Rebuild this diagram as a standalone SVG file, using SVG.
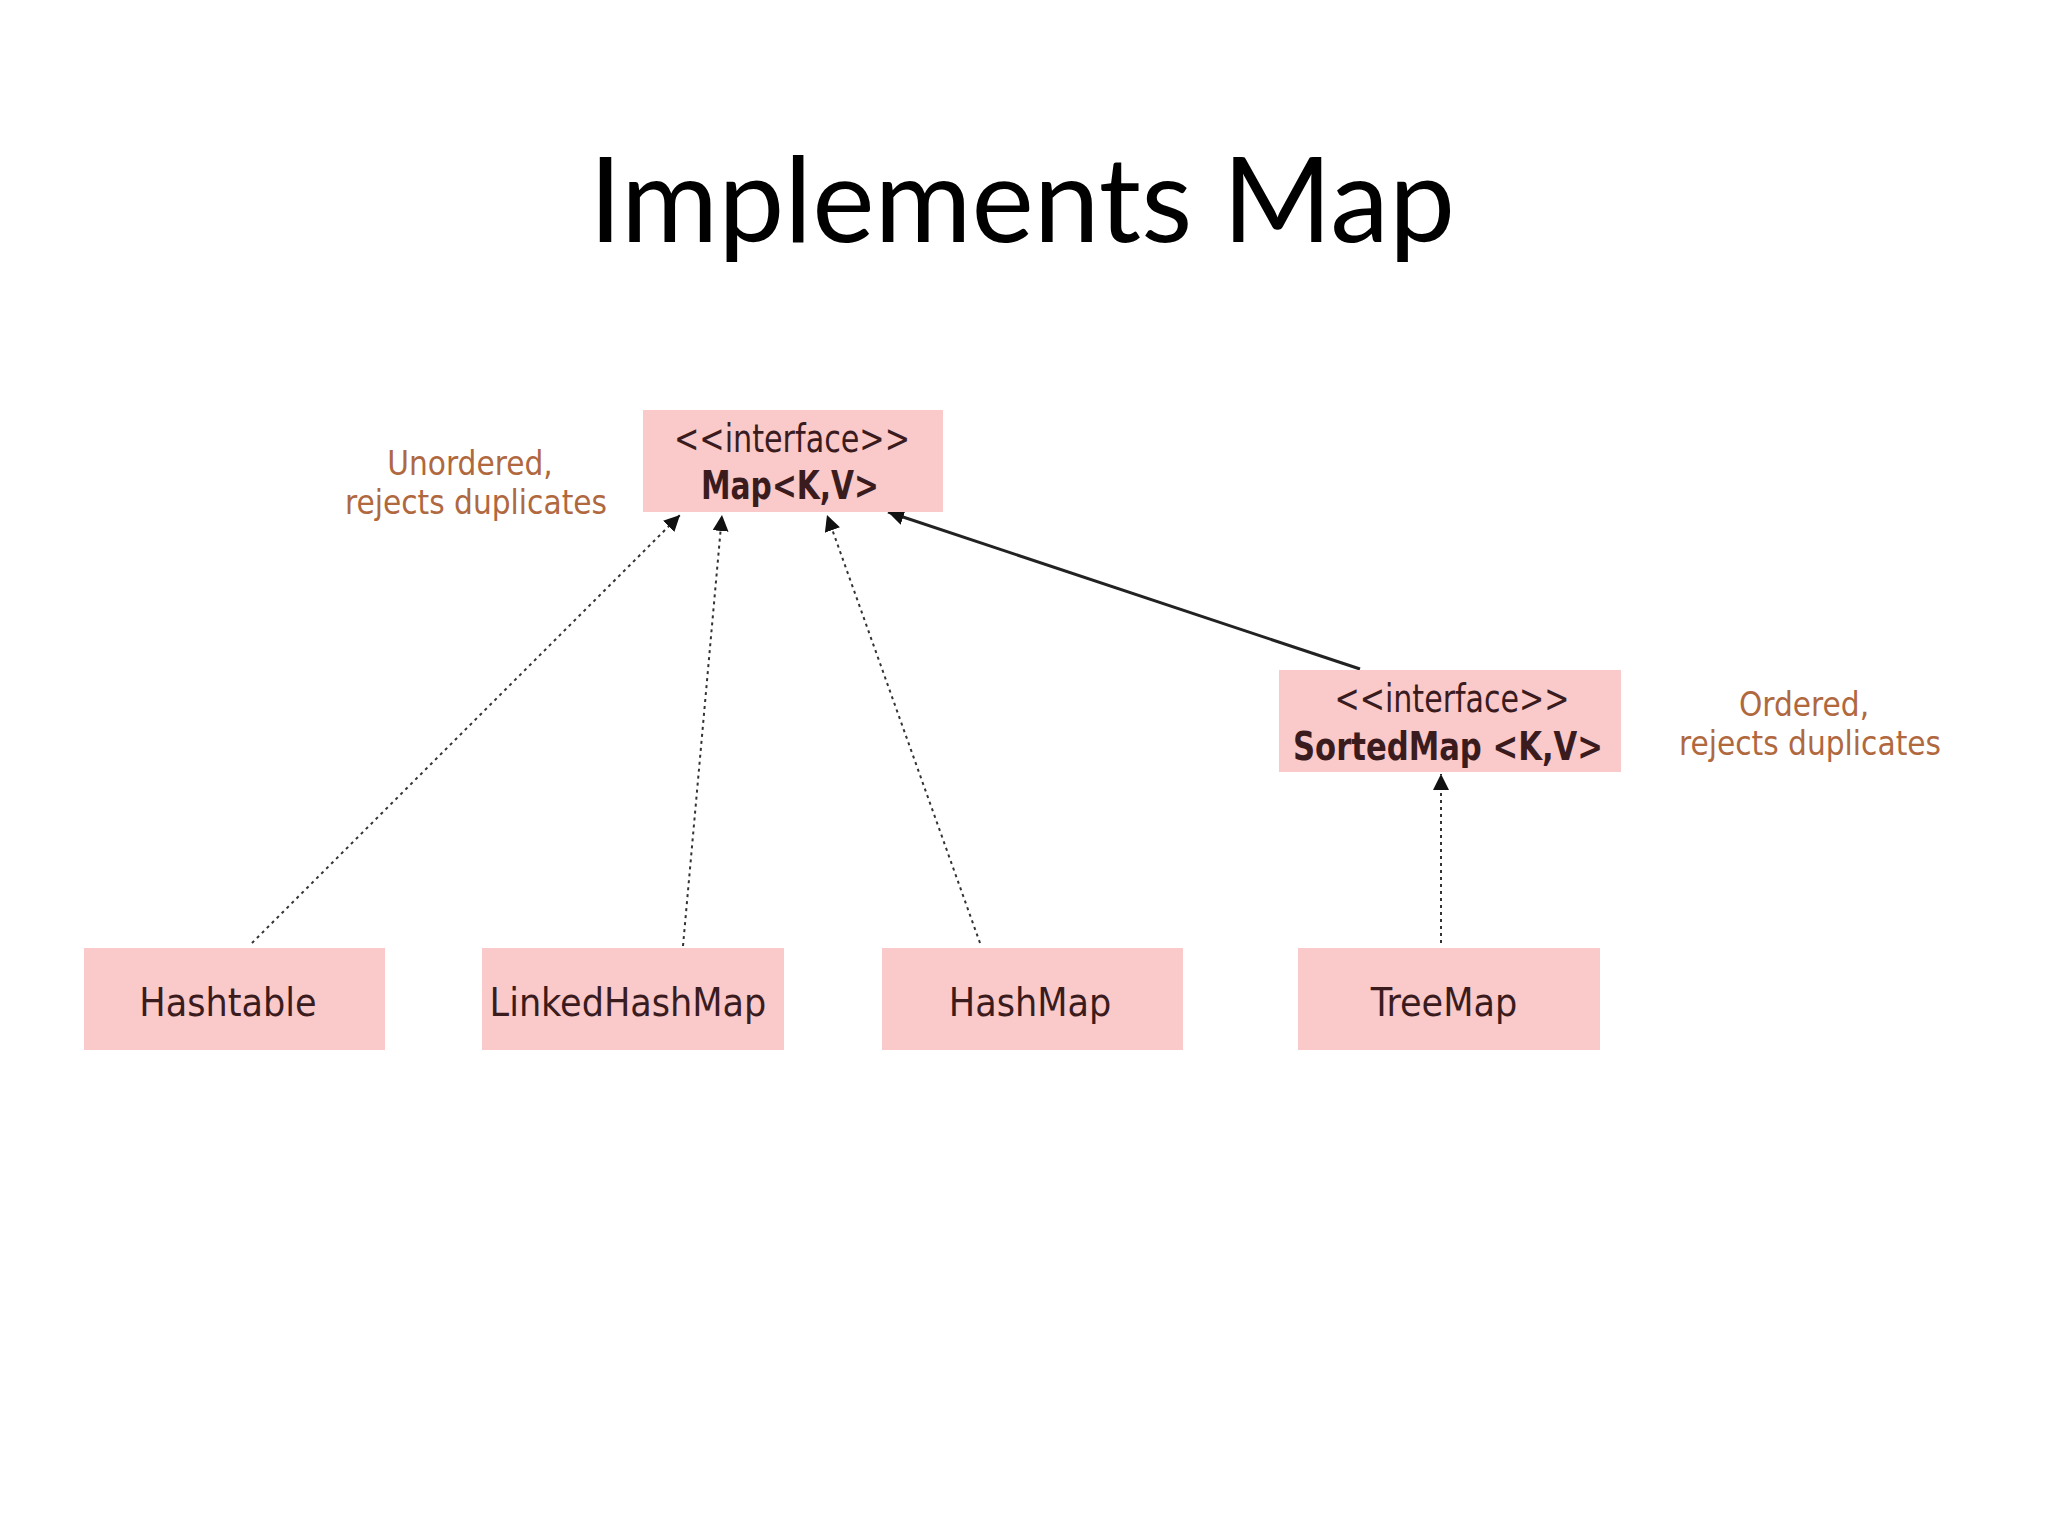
<svg xmlns="http://www.w3.org/2000/svg" width="2048" height="1536" viewBox="0 0 2048 1536">
<style>
.box{fill:#fac9c9;}
.nt{font-family:"DejaVu Sans Condensed","DejaVu Sans",sans-serif;font-stretch:condensed;font-size:39px;fill:#3a1c1e;text-anchor:middle;}
.b{font-weight:bold;}
.note{font-family:"DejaVu Sans Condensed","DejaVu Sans",sans-serif;font-stretch:condensed;font-size:33px;fill:#b0683f;text-anchor:middle;}
.dot{stroke:#333;stroke-width:2;stroke-dasharray:3 4;fill:none;}
.solid{stroke:#222;stroke-width:3;fill:none;}
</style>
<defs>
<marker id="ah" viewBox="0 0 10 10" refX="10" refY="5" markerWidth="16" markerHeight="16" markerUnits="userSpaceOnUse" orient="auto">
<path d="M0,0 L10,5 L0,10 z" fill="#111"/>
</marker>
</defs>
<rect width="2048" height="1536" fill="#fff"/>
<text x="1022" y="242" font-family="Lato,'Open Sans',sans-serif" font-size="118" fill="#000" text-anchor="middle">Implements Map</text>

<g id="connectors">
<line class="dot" x1="252" y1="943" x2="680" y2="515" marker-end="url(#ah)"/>
<line class="dot" x1="683" y1="946" x2="722" y2="515" marker-end="url(#ah)"/>
<line class="dot" x1="980" y1="943" x2="827" y2="515" marker-end="url(#ah)"/>
<line class="solid" x1="1360" y1="669" x2="888" y2="512" marker-end="url(#ah)"/>
<line class="dot" x1="1441" y1="943" x2="1441" y2="774" marker-end="url(#ah)"/>
</g>

<g id="map">
<rect class="box" x="643" y="410" width="300" height="102"/>
<text class="nt" x="792" y="452" textLength="236" lengthAdjust="spacingAndGlyphs">&lt;&lt;interface&gt;&gt;</text>
<text class="nt b" x="790" y="499" textLength="178" lengthAdjust="spacingAndGlyphs">Map&lt;K,V&gt;</text>
</g>
<g id="note-unordered">
<text class="note" x="470" y="475">Unordered,</text>
<text class="note" x="476" y="514">rejects duplicates</text>
</g>
<g id="sortedmap">
<rect class="box" x="1279" y="670" width="342" height="102"/>
<text class="nt" x="1452" y="712" textLength="235" lengthAdjust="spacingAndGlyphs">&lt;&lt;interface&gt;&gt;</text>
<text class="nt b" x="1448" y="760" textLength="310" lengthAdjust="spacingAndGlyphs">SortedMap &lt;K,V&gt;</text>
</g>
<g id="note-ordered">
<text class="note" x="1804" y="716">Ordered,</text>
<text class="note" x="1810" y="755">rejects duplicates</text>
</g>
<g id="hashtable">
<rect class="box" x="84" y="948" width="301" height="102"/>
<text class="nt" x="228" y="1016">Hashtable</text>
</g>
<g id="linkedhashmap">
<rect class="box" x="482" y="948" width="302" height="102"/>
<text class="nt" x="628" y="1016">LinkedHashMap</text>
</g>
<g id="hashmap">
<rect class="box" x="882" y="948" width="301" height="102"/>
<text class="nt" x="1030" y="1016">HashMap</text>
</g>
<g id="treemap">
<rect class="box" x="1298" y="948" width="302" height="102"/>
<text class="nt" x="1444" y="1016">TreeMap</text>
</g>
</svg>
